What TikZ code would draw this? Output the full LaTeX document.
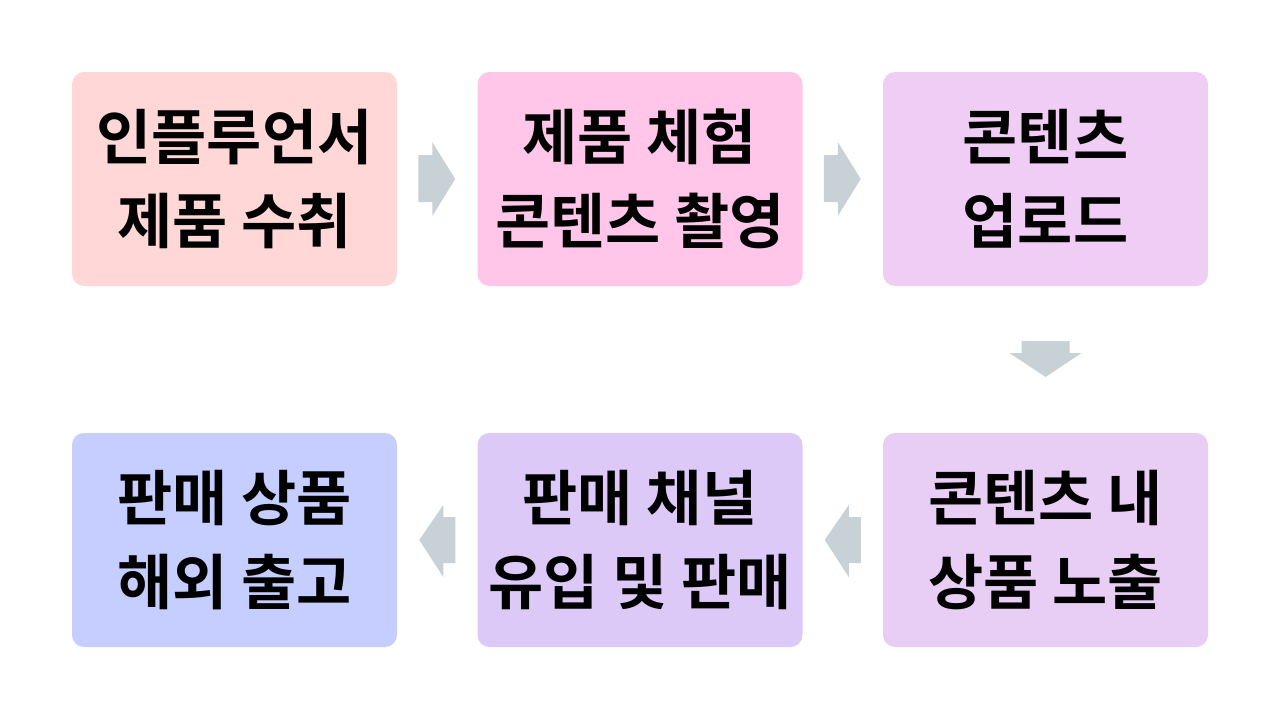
\documentclass[tikz,border=0pt]{standalone}
\usepackage{fontspec}
\usetikzlibrary{calc}
\setmainfont{Noto Sans CJK KR}[BoldFont={* Bold}]
\newfontfamily\krb{Noto Sans CJK KR Bold}
\definecolor{cA}{HTML}{FFD7D7}
\definecolor{cB}{HTML}{FFC6EA}
\definecolor{cC}{HTML}{EFCDF4}
\definecolor{cD}{HTML}{E8CDF4}
\definecolor{cE}{HTML}{DCC9F7}
\definecolor{cF}{HTML}{C6CDFF}
\definecolor{arr}{HTML}{C8D2D6}
\tikzset{
  stepbox/.style={rounded corners=12pt, minimum width=325pt, minimum height=214pt,
    inner sep=0pt, align=center,
    font=\krb\fontsize{60}{84}\selectfont},
  fatarrow/.style={fill=arr, draw=none}
}
\begin{document}
\begin{tikzpicture}[x=1pt,y=-1pt]
\useasboundingbox (0,0) rectangle (1280,720);
\fill[white] (0,0) rectangle (1280,720);
\node[stepbox, fill=cA] (b1) at (234.5,179) {인플루언서\\제품 수취};
\node[stepbox, fill=cB] (b2) at (640,179) {제품 체험\\콘텐츠 촬영};
\node[stepbox, fill=cC] (b3) at (1045.5,179) {콘텐츠\\업로드};
\node[stepbox, fill=cD] (b4) at (1045.5,540) {콘텐츠 내\\상품 노출};
\node[stepbox, fill=cE] (b5) at (640,540) {판매 채널\\유입 및 판매};
\node[stepbox, fill=cF] (b6) at (234.5,540) {판매 상품\\해외 출고};
% right arrows
\coordinate (a1) at ($(b1.east)!0.5!(b2.west)$);
\coordinate (a2) at ($(b2.east)!0.5!(b3.west)$);
\foreach \c in {a1,a2}{
  \fill[fatarrow] ([shift={(-19,-24)}]\c) -- ([shift={(-5,-24)}]\c) -- ([shift={(-5,-37)}]\c)
    -- ([shift={(18,0)}]\c) -- ([shift={(-5,37)}]\c) -- ([shift={(-5,23)}]\c)
    -- ([shift={(-19,23)}]\c) -- cycle;
}
% down arrow
\coordinate (a3) at ($(b3.south)!0.5!(b4.north)$);
\fill[fatarrow] ([shift={(-24,-18.5)}]a3) -- ([shift={(24,-18.5)}]a3) -- ([shift={(24,-6.5)}]a3)
  -- ([shift={(36,-6.5)}]a3) -- ([shift={(0,17.5)}]a3) -- ([shift={(-36,-6.5)}]a3)
  -- ([shift={(-24,-6.5)}]a3) -- cycle;
% left arrows
\coordinate (a4) at ($(b5.east)!0.5!(b4.west)$);
\coordinate (a5) at ($(b6.east)!0.5!(b5.west)$);
\foreach \c in {a4,a5}{
  \fill[fatarrow] ([shift={(18,-23)}]\c) -- ([shift={(6,-23)}]\c) -- ([shift={(6,-35)}]\c)
    -- ([shift={(-18,0)}]\c) -- ([shift={(6,37)}]\c) -- ([shift={(6,23)}]\c)
    -- ([shift={(18,23)}]\c) -- cycle;
}
\end{tikzpicture}
\end{document}
